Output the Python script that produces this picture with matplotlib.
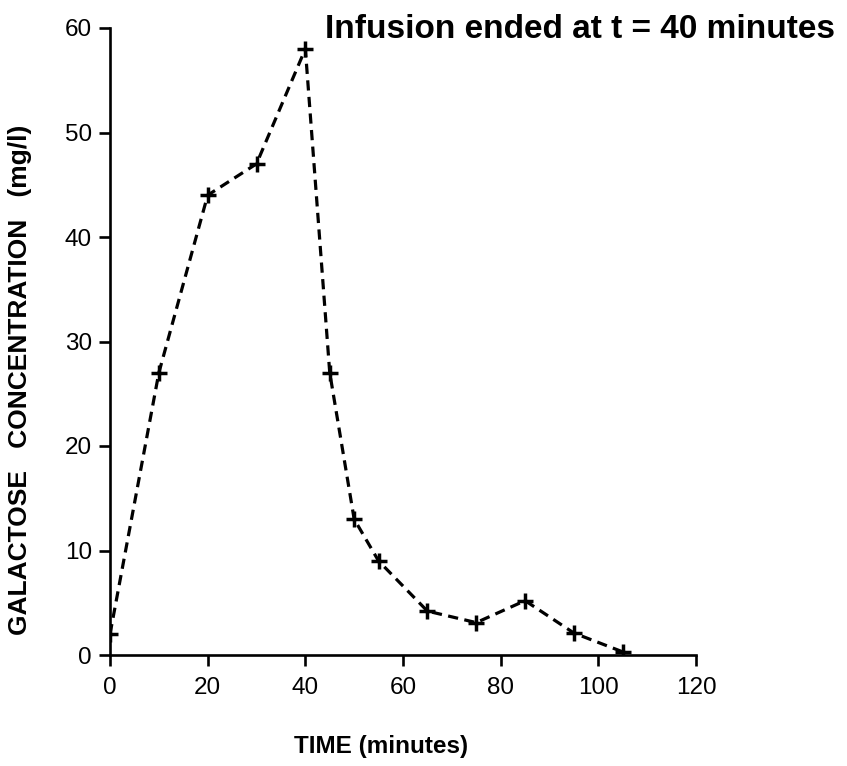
import matplotlib
matplotlib.use("Agg")
import matplotlib.pyplot as plt

time_min = [0, 10, 20, 30, 40, 45, 50, 55, 65, 75, 85, 95, 105]
galactose = [2, 27, 44, 47, 58, 27, 13, 9, 4.2, 3.1, 5.2, 2.1, 0.3]
x_ticks = [0, 20, 40, 60, 80, 100, 120]
y_ticks = [0, 10, 20, 30, 40, 50, 60]

plt.rcParams['font.family'] = ['Liberation Sans', 'DejaVu Sans']

W, H = 847, 766
fig = plt.figure(figsize=(W / 100, H / 100), dpi=100)
ax = fig.add_axes([110 / W, 1 - 655 / H, (696 - 110) / W, (655 - 28) / H])

ax.plot(time_min, galactose, color='black', lw=2.3, dashes=(3.2, 2.0),
        marker='+', markersize=12, markeredgewidth=2.5)

ax.set_xlim(0, 120)
ax.set_ylim(0, 60)
ax.set_xticks(x_ticks)
ax.set_yticks(y_ticks)
for s in ['top', 'right']:
    ax.spines[s].set_visible(False)
for s in ['left', 'bottom']:
    ax.spines[s].set_linewidth(1.9)
ax.tick_params(axis='both', direction='out', length=8, width=1.9,
               labelsize=17.5, colors='black')
ax.tick_params(axis='x', pad=8)
ax.tick_params(axis='y', pad=5)

fig.text(835 / W, 1 - 38 / H, 'Infusion ended at t = 40 minutes',
         ha='right', va='baseline', fontsize=24, fontweight='bold')
fig.text(20 / W, 1 - 380 / H, 'GALACTOSE   CONCENTRATION   (mg/l)',
         rotation=90, ha='center', va='center', fontsize=19, fontweight='bold')
fig.text(381 / W, 1 - 746 / H, 'TIME (minutes)',
         ha='center', va='center', fontsize=17.5, fontweight='bold')

fig.savefig('out.png', dpi=100)
